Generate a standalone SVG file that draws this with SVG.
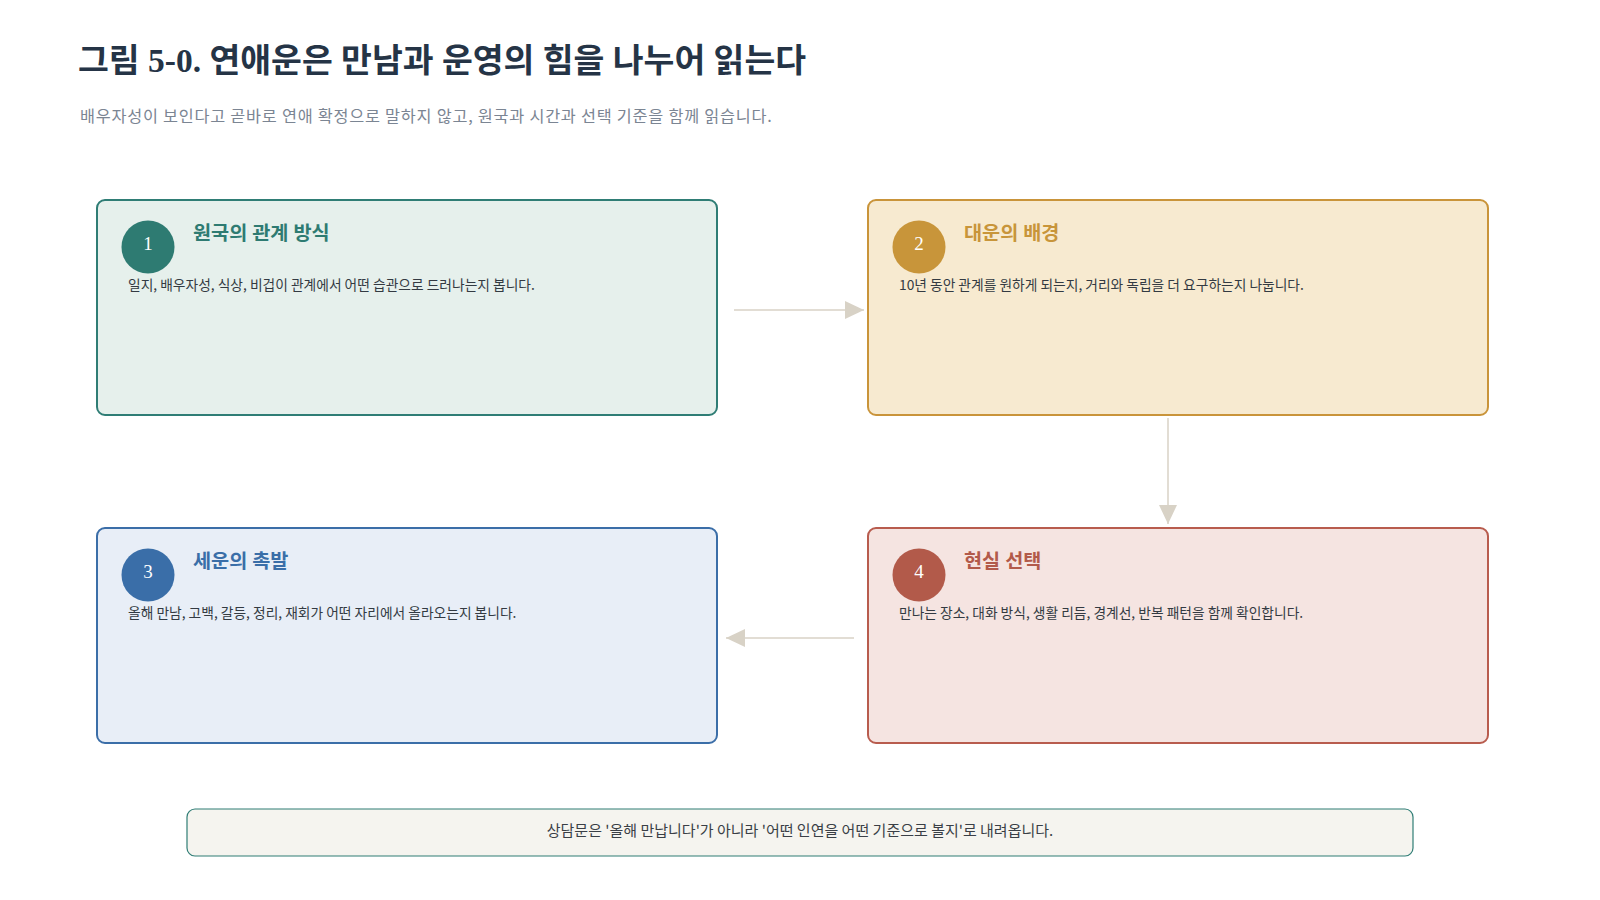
<svg xmlns="http://www.w3.org/2000/svg" width="1600" height="900" viewBox="0 0 1600 900">
<defs>
<style>
.title{font-family:"Liberation Serif","Noto Sans CJK KR",serif;font-weight:700;font-size:33.5px;fill:#253446}
.sub{font-family:"Noto Sans CJK KR",sans-serif;font-size:16.3px;letter-spacing:0.75px;fill:#7b8593}
.num{font-family:"Liberation Serif","Noto Sans CJK KR",serif;font-size:19px;fill:#ffffff;text-anchor:middle}
.ntitle{font-family:"Liberation Serif","Noto Sans CJK KR",serif;font-weight:700;font-size:19.7px}
.desc{font-family:"Noto Sans CJK KR",sans-serif;font-size:13.75px;fill:#333a42}
.foot{font-family:"Noto Sans CJK KR",sans-serif;font-size:15px;fill:#3a3f46;text-anchor:middle}
.conn{stroke:#d8d2c6;stroke-width:1.5;fill:none}
</style>
<marker id="ah" markerWidth="20" markerHeight="18" refX="19" refY="9" orient="auto" markerUnits="userSpaceOnUse">
<path d="M0,0 L19,9 L0,18 Z" fill="#d8d2c6"/>
</marker>
</defs>
<rect width="1600" height="900" fill="#ffffff"/>
<text class="title" x="78" y="72">그림 5-0. 연애운은 만남과 운영의 힘을 나누어 읽는다</text>
<text class="sub" x="80" y="122">배우자성이 보인다고 곧바로 연애 확정으로 말하지 않고, 원국과 시간과 선택 기준을 함께 읽습니다.</text>
<g id="connectors">
<line class="conn" x1="734" y1="310" x2="864" y2="310" marker-end="url(#ah)"/>
<line class="conn" x1="1168" y1="418" x2="1168" y2="524" marker-end="url(#ah)"/>
<line class="conn" x1="854" y1="638" x2="726" y2="638" marker-end="url(#ah)"/>
</g>
<g id="node1">
<rect x="97" y="200" width="620" height="215" rx="8" fill="#e6f0ec" stroke="#2f7d75" stroke-width="2"/>
<circle cx="148" cy="247" r="26.5" fill="#2e7b72"/>
<text class="num" x="148" y="250">1</text>
<text class="ntitle" x="193" y="240" fill="#2e7b72">원국의 관계 방식</text>
<text class="desc" x="128" y="290">일지, 배우자성, 식상, 비겁이 관계에서 어떤 습관으로 드러나는지 봅니다.</text>
</g>
<g id="node2">
<rect x="868" y="200" width="620" height="215" rx="8" fill="#f7ead0" stroke="#c9943a" stroke-width="2"/>
<circle cx="919" cy="247" r="26.5" fill="#c8953a"/>
<text class="num" x="919" y="250">2</text>
<text class="ntitle" x="964" y="240" fill="#c8953a">대운의 배경</text>
<text class="desc" x="899" y="290">10년 동안 관계를 원하게 되는지, 거리와 독립을 더 요구하는지 나눕니다.</text>
</g>
<g id="node3">
<rect x="97" y="528" width="620" height="215" rx="8" fill="#e8eef7" stroke="#3b6ea8" stroke-width="2"/>
<circle cx="148" cy="575" r="26.5" fill="#3a6ea8"/>
<text class="num" x="148" y="578">3</text>
<text class="ntitle" x="193" y="568" fill="#3a6ea8">세운의 촉발</text>
<text class="desc" x="128" y="618">올해 만남, 고백, 갈등, 정리, 재회가 어떤 자리에서 올라오는지 봅니다.</text>
</g>
<g id="node4">
<rect x="868" y="528" width="620" height="215" rx="8" fill="#f5e4e1" stroke="#b85c4e" stroke-width="2"/>
<circle cx="919" cy="575" r="26.5" fill="#b25a4a"/>
<text class="num" x="919" y="578">4</text>
<text class="ntitle" x="964" y="568" fill="#b25a4a">현실 선택</text>
<text class="desc" x="899" y="618">만나는 장소, 대화 방식, 생활 리듬, 경계선, 반복 패턴을 함께 확인합니다.</text>
</g>
<g id="footer">
<rect x="187" y="809" width="1226" height="47" rx="8" fill="#f5f4ef" stroke="#2f7d75" stroke-width="1.2"/>
<text class="foot" x="800" y="836">상담문은 '올해 만납니다'가 아니라 '어떤 인연을 어떤 기준으로 볼지'로 내려옵니다.</text>
</g>
</svg>
